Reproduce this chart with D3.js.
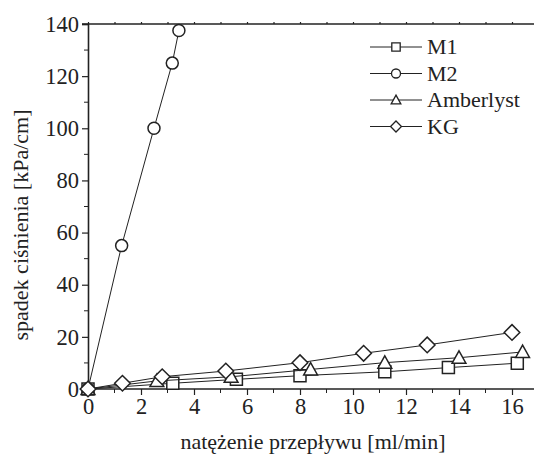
<!DOCTYPE html>
<html>
<head>
<meta charset="utf-8">
<script src="https://cdn.jsdelivr.net/npm/d3@7"></script>
</head>
<body style="margin:0">
<svg id="chart" width="534" height="459"></svg>
<script>
// data
var seriesNames = ["M1", "M2", "Amberlyst", "KG"];
var seriesSymbols = ["square", "circle", "triangle", "diamond"];

var m1X = [0, 3.2, 5.6, 8.0, 11.2, 13.6, 16.2];
var m1Y = [0, 2.2, 3.7, 5.1, 6.6, 8.2, 9.9];

var m2X = [0, 1.27, 2.49, 3.18, 3.43];
var m2Y = [0, 55, 100, 125, 137.5];

var amberX = [0, 2.6, 5.4, 8.4, 11.2, 14.0, 16.4];
var amberY = [0, 3.1, 4.7, 7.5, 10.1, 12.0, 14.2];

var kgX = [0, 1.3, 2.8, 5.2, 8.0, 10.4, 12.8, 16.0];
var kgY = [0, 2.2, 4.7, 6.9, 10.1, 13.7, 16.9, 21.7];

var xTicks = [0, 2, 4, 6, 8, 10, 12, 14, 16];
var yTicks = [0, 20, 40, 60, 80, 100, 120, 140];

var xTitle = "natężenie przepływu [ml/min]";
var yTitle = "spadek ciśnienia [kPa/cm]";

var INK = "#222";
var fontFamilies = ["Liberation Serif", "Times New Roman", "DejaVu Serif"];
var fontStack = fontFamilies.map(function(f) { return "'" + f + "'"; }).join(", ");

var svg = d3.select("#chart");

var margin = {left: 88, top: 24, bottom: 70};
var height = 459;

var xscale = d3.scaleLinear().domain([0, 17]).range([margin.left, margin.left + 17 * 26.5]);
var yscale = d3.scaleLinear().domain([0, 140]).range([height - margin.bottom, margin.top]);

function pts(xs, ys) {
    return xs.map(function(x, i) { return {x: x, y: ys[i]}; });
}
var allData = [pts(m1X, m1Y), pts(m2X, m2Y), pts(amberX, amberY), pts(kgX, kgY)];

// every label goes through here
function serif(sel, size) {
    sel.attr("font-size", size)
       .style("font-family", fontStack)
       .attr("fill", INK);
}

// axes
var x_axis = d3.axisBottom(xscale).tickValues(xTicks).tickSize(6).tickPadding(3).tickFormat(d3.format("d"));
var y_axis = d3.axisLeft(yscale).tickValues(yTicks).tickSize(6).tickPadding(3).tickFormat(d3.format("d"));

var gx = svg.append("g")
    .attr("transform", "translate(0," + yscale(0) + ")")
    .call(x_axis);
var gy = svg.append("g")
    .attr("transform", "translate(" + xscale(0) + ",0)")
    .call(y_axis);

// minor ticks
var xMinor = d3.range(1, 17, 2);
gx.selectAll(".minor").data(xMinor).enter().append("line")
    .attr("class", "minor")
    .attr("x1", function(d) { return xscale(d); })
    .attr("x2", function(d) { return xscale(d); })
    .attr("y1", 0).attr("y2", 4)
    .attr("stroke", INK);
var yMinor = d3.range(10, 140, 20);
gy.selectAll(".minor").data(yMinor).enter().append("line")
    .attr("class", "minor")
    .attr("y1", function(d) { return yscale(d); })
    .attr("y2", function(d) { return yscale(d); })
    .attr("x1", 0).attr("x2", -4)
    .attr("stroke", INK);

// top frame line with small ticks
var topAxis = d3.axisTop(xscale).tickValues(d3.range(0, 18, 1)).tickSize(2).tickFormat("");
svg.append("g")
    .attr("transform", "translate(0," + yscale(140) + ")")
    .call(topAxis)
    .call(function(g) { g.select(".domain").attr("d", "M" + (xscale(0) - 6) + ",0H540"); });

svg.selectAll("g").attr("font-family", null).attr("font-size", null);
svg.selectAll(".domain").attr("stroke", INK).attr("stroke-width", 1.6);
svg.selectAll(".tick line").attr("stroke", INK).attr("stroke-width", 1.2);
svg.selectAll(".tick text").call(serif, 22.5);
gx.select(".domain").attr("d", "M" + xscale(0) + ",0H540");

// titles
svg.append("text")
    .attr("x", 313).attr("y", 449)
    .attr("text-anchor", "middle")
    .call(serif, 22)
    .text(xTitle);
svg.append("text")
    .attr("transform", "translate(28," + 225 + ") rotate(-90)")
    .attr("text-anchor", "middle")
    .call(serif, 22)
    .text(yTitle);

// markers
function symbolPath(kind, s) {
    if (kind === "square") return "M" + (-s) + "," + (-s) + "H" + s + "V" + s + "H" + (-s) + "Z";
    if (kind === "triangle") {
        var h = s * 1.15;
        return "M0," + (-h) + "L" + (s * 1.15) + "," + (h * 0.8) + "L" + (-s * 1.15) + "," + (h * 0.8) + "Z";
    }
    if (kind === "diamond") {
        var d = s * 1.3;
        return "M0," + (-d) + "L" + d + ",0L0," + d + "L" + (-d) + ",0Z";
    }
    return "";
}

var line = d3.line()
    .x(function(d) { return xscale(d.x); })
    .y(function(d) { return yscale(d.y); });

allData.forEach(function(data, i) {
    svg.append("path")
        .datum(data)
        .attr("d", line)
        .attr("fill", "none")
        .attr("stroke", INK)
        .attr("stroke-width", 1);

    var kind = seriesSymbols[i];
    var g = svg.append("g");
    if (kind === "circle") {
        g.selectAll("circle").data(data).enter().append("circle")
            .attr("cx", function(d) { return xscale(d.x); })
            .attr("cy", function(d) { return yscale(d.y); })
            .attr("r", 6)
            .attr("fill", "#fff")
            .attr("stroke", INK)
            .attr("stroke-width", 1.5);
    } else {
        g.selectAll("path").data(data).enter().append("path")
            .attr("transform", function(d) { return "translate(" + xscale(d.x) + "," + yscale(d.y) + ")"; })
            .attr("d", symbolPath(kind, 6))
            .attr("fill", "#fff")
            .attr("stroke", INK)
            .attr("stroke-width", 1.5);
    }
});

// legend
var legend = svg.append("g").attr("transform", "translate(370,47)");
seriesNames.forEach(function(name, i) {
    var row = legend.append("g").attr("transform", "translate(0," + (i * 26.5) + ")");
    row.append("line").attr("x1", 0).attr("x2", 52).attr("y1", 0).attr("y2", 0)
        .attr("stroke", INK).attr("stroke-width", 1);
    var kind = seriesSymbols[i];
    if (kind === "circle") {
        row.append("circle").attr("cx", 26).attr("cy", 0).attr("r", 4.5)
            .attr("fill", "#fff").attr("stroke", INK).attr("stroke-width", 1.3);
    } else {
        row.append("path").attr("transform", "translate(26,0)")
            .attr("d", symbolPath(kind, 4.2))
            .attr("fill", "#fff").attr("stroke", INK).attr("stroke-width", 1.3);
    }
    row.append("text").attr("x", 57).attr("y", 7)
        .call(serif, 22)
        .text(name);
});
</script>
</body>
</html>
